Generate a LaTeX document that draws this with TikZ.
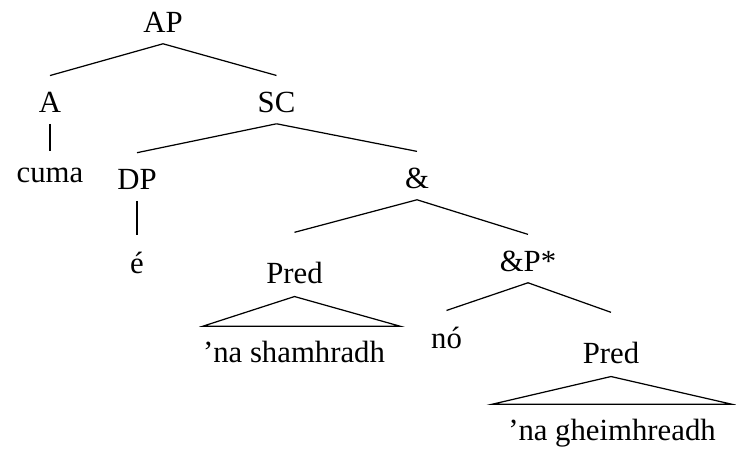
\documentclass[tikz,border=0pt]{standalone}
\usepackage{fontspec}
\setmainfont{Liberation Serif}
\newcommand{\branch}[3][0pt]{\draw[edge] ([yshift=-6.5pt]#2.south) -- ([yshift=9pt+#1]#3.north);}

\begin{document}
\begin{tikzpicture}[
  tn/.style={anchor=base, inner sep=0pt, text depth=0pt, font=\fontsize{17.5}{20}\selectfont},
  edge/.style={line width=0.7pt},
]
  \useasboundingbox (0,0) rectangle (14.72,-9.12);
  \node[tn] (ap)    at (3.26,-0.64) {AP};
  \node[tn] (a)     at (1.00,-2.24) {A};
  \node[tn] (sc)    at (5.53,-2.24) {SC};
  \node[tn] (cuma)  at (1.00,-3.64) {cuma};
  \node[tn] (dp)    at (2.74,-3.78) {DP};
  \node[tn] (conj)  at (8.34,-3.76) {\&};
  \node[tn] (e)     at (2.74,-5.46) {é};
  \node[tn] (predA) at (5.89,-5.66) {Pred};
  \node[tn] (conjP) at (10.56,-5.42) {\&P*};
  \node[tn] (shamA) at (5.88,-7.24) {’na shamhradh};
  \node[tn] (no)    at (8.93,-6.96) {nó};
  \node[tn] (predB) at (12.22,-7.26) {Pred};
  \node[tn] (geimB) at (12.24,-8.80) {’na gheimhreadh};
  \branch{ap}{a}
  \branch{ap}{sc}
  \branch{a}{cuma}
  \branch{sc}{dp}
  \branch{sc}{conj}
  \branch{dp}{e}
  \branch[7.5pt]{conj}{predA}
  \branch{conj}{conjP}
  \branch{conjP}{no}
  \branch[7.5pt]{conjP}{predB}
  \draw[edge] ([yshift=-7.5pt]predA.south) -- ([yshift=8pt]shamA.north west)
    -- ([yshift=8pt,xshift=8.5pt]shamA.north east) -- cycle;
  \draw[edge] ([yshift=-7.5pt]predB.south) -- ([yshift=8pt,xshift=-9pt]geimB.north west)
    -- ([yshift=8pt,xshift=9pt]geimB.north east) -- cycle;
\end{tikzpicture}
\end{document}
